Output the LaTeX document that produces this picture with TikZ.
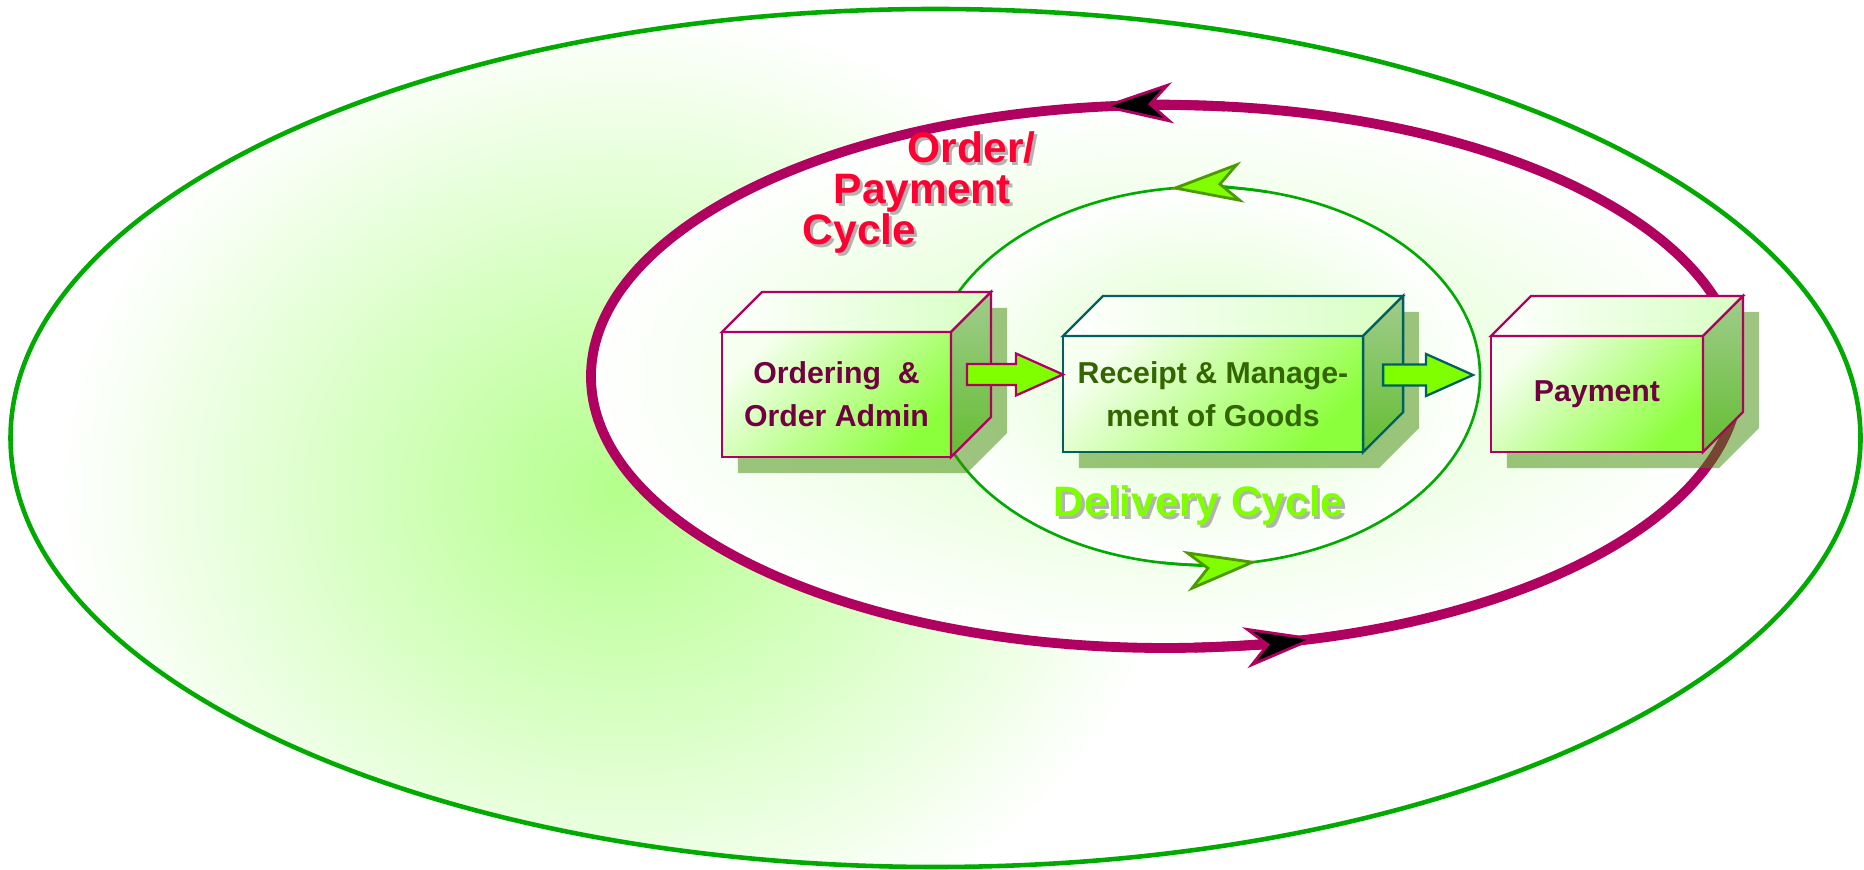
\documentclass[tikz,border=0pt]{standalone}
\usepackage{fontspec}
\setmainfont{Liberation Sans}
\usetikzlibrary{arrows.meta,calc}

\definecolor{cycmag}{RGB}{176,0,96}
\definecolor{outgreen}{RGB}{0,170,0}
\definecolor{boxteal}{RGB}{0,96,96}
\definecolor{txtmag}{RGB}{112,0,64}
\definecolor{txtgreen}{RGB}{51,102,0}
\definecolor{ordred}{RGB}{255,0,51}
\definecolor{delgreen}{RGB}{128,255,0}
\definecolor{limegreen}{RGB}{128,255,0}
\definecolor{tipgreen}{RGB}{76,153,0}
\definecolor{fronttop}{RGB}{246,255,240}
\definecolor{frontgreen}{RGB}{140,255,60}
\definecolor{topgreen}{RGB}{215,255,195}
\definecolor{sidetop}{RGB}{160,204,140}
\definecolor{sidebot}{RGB}{100,190,50}
\definecolor{shadowgreen}{RGB}{63,139,4}
\definecolor{glow}{RGB}{180,255,140}
\definecolor{paleglow}{RGB}{215,255,195}

\pgfdeclarelayer{bglayer}
\pgfdeclarelayer{shadowlayer}
\pgfsetlayers{bglayer,shadowlayer,main}

% top face, right face and drop shadow of a box node
\newcommand\cubefaces[2]{%
  \shade[draw=#2, line width=0.65pt, left color=white, right color=topgreen]
    (#1.north west) -- ++(40,40) -- ($(#1.north east)+(40,40)$) -- (#1.north east) -- cycle;
  \shade[draw=#2, line width=0.65pt, top color=sidetop, bottom color=sidebot]
    (#1.north east) -- ++(40,40) -- ($(#1.south east)+(40,40)$) -- (#1.south east) -- cycle;
  \begin{pgfonlayer}{shadowlayer}
    \fill[shadowgreen, opacity=0.5] ($(#1.south west)+(16,-16)$) -- ($(#1.north west)+(16,-16)$)
      -- ($(#1.north west)+(56,24)$) -- ($(#1.north east)+(56,24)$)
      -- ($(#1.south east)+(56,24)$) -- ($(#1.south east)+(16,-16)$) -- cycle;
  \end{pgfonlayer}}

% fat arrow from a start point to a tip
\newcommand\blockarrow[3]{%
  \draw[flowarrow, draw=#3] let \p1=(#1), \p2=(#2) in
    (\x1,\y1+1.05mm) -- (\x2-4.7mm,\y1+1.05mm) -- (\x2-4.7mm,\y1+2.1mm) -- (\x2,\y1)
    -- (\x2-4.7mm,\y1-2.1mm) -- (\x2-4.7mm,\y1-1.05mm) -- (\x1,\y1-1.05mm) -- cycle;}

\newcommand\shtext[1]{\makebox[0pt][l]{\kern0.8pt\smash{\raisebox{-0.8pt}{\color{black!30}#1}}}#1}

\begin{document}
\begin{tikzpicture}[x=0.01cm,y=0.01cm,
  cubefront/.style={draw=#1, line width=0.65pt, outer sep=0pt, inner sep=0pt, align=center,
    font=\fontsize{8.6}{12.3}\selectfont\bfseries,
    top color=fronttop, bottom color=frontgreen, shading angle=45},
  cyctext/.style={anchor=base west, inner sep=0pt, font=\fontsize{12.1}{14}\selectfont\bfseries},
  flowarrow/.style={fill=limegreen, line width=0.65pt, line join=miter},
  magtip/.style={cycmag, line width=2.8pt,
    -{Stealth[length=7.3mm, width=4.1mm, inset=2.1mm, fill=black, line width=0.8pt]}},
  greentip/.style={outgreen, line width=0.75pt,
    -{Stealth[length=7.3mm, width=4.1mm, inset=2.1mm, fill=limegreen, color=tipgreen, line width=0.8pt]}}]
\useasboundingbox (0,0) rectangle (1864,870);

% centres of the cycles
\coordinate (oc) at (935.5,432);
\coordinate (pc) at (1165,493.5);
\coordinate (dc) at (1205,494);

\begin{pgfonlayer}{bglayer}
  \begin{scope}
    \clip (oc) ellipse (925 and 429);
    \fill[white] (0,0) rectangle (1864,870);
    \shade[inner color=glow, outer color=white] (620,380) ellipse (560 and 480);
  \end{scope}
  \draw[outgreen, line width=1.3pt] (oc) ellipse (925 and 429);
  \shade[inner color=paleglow, outer color=white] (pc) ellipse (574 and 271.5);
  \draw[cycmag, line width=2.8pt] (pc) ellipse (574 and 271.5);
  \shade[inner color=paleglow, outer color=white] (dc) ellipse (275 and 189);
  \draw[outgreen, line width=0.75pt] (dc) ellipse (275 and 189);
\end{pgfonlayer}

% boxes
\node[cubefront=cycmag, minimum width=2.29cm, minimum height=1.25cm, text=txtmag]
  (order) at (836.5,475.5) {Ordering\ \ \&\\Order Admin};
\node[cubefront=boxteal, minimum width=3cm, minimum height=1.16cm, text=txtgreen]
  (receipt) at (1213,476) {Receipt \& Manage-\\ment of Goods};
\node[cubefront=cycmag, minimum width=2.12cm, minimum height=1.16cm, text=txtmag]
  (pay) at (1597,476) {Payment};
\cubefaces{order}{cycmag}
\cubefaces{receipt}{boxteal}
\cubefaces{pay}{cycmag}

% flow between the boxes
\coordinate (o2r) at ($(order.east)+(16,20)$);
\coordinate (r2p) at ($(receipt.east)+(20,19)$);
\coordinate (dtip) at ($(dc)+(268,1)$);
\blockarrow{o2r}{receipt.west}{cycmag}
\blockarrow{r2p}{dtip}{boxteal}

% labels
\node[cyctext, text=ordred] (olab) at (802,625)
  {\vbox{\baselineskip=11.7pt \lineskiplimit=-20pt
    \hbox{\kern1.05cm\shtext{Order/}}
    \hbox{\kern0.31cm\shtext{Payment}}
    \hbox{\shtext{Cycle}}}};
\node[cyctext, text=delgreen] (dlab) at (1053,353) {\shtext{Delivery Cycle}};

% direction of the cycles
\draw[magtip] ($(pc)+(84:574 and 271.5)$) arc[start angle=84, end angle=96.5, x radius=574, y radius=271.5];
\draw[magtip] ($(pc)+(273:574 and 271.5)$) arc[start angle=273, end angle=285.4, x radius=574, y radius=271.5];
\draw[greentip] ($(dc)+(77:275 and 189)$) arc[start angle=77, end angle=97.3, x radius=275, y radius=189];
\draw[greentip] ($(dc)+(261:275 and 189)$) arc[start angle=261, end angle=281, x radius=275, y radius=189];
\end{tikzpicture}
\end{document}
